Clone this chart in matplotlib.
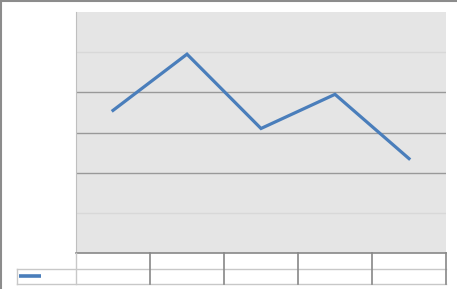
import matplotlib
matplotlib.use("Agg")
import matplotlib.pyplot as plt
from matplotlib.lines import Line2D
import numpy as np

categories = ["", "", "", "", ""]
values = [3.55, 4.95, 3.1, 3.95, 2.35]
y_max = 6

W, H = 457, 289
fig = plt.figure(figsize=(W / 100, H / 100), dpi=100)

def fx(px):
    return px / W

def fy(py):
    return 1 - py / H

# main plot area
L, R, T, B = 76, 446, 12, 253
ax = fig.add_axes([fx(L), fy(B), fx(R - L), (B - T) / H])
ax.set_facecolor("#e5e5e5")
x = np.arange(len(values))
ax.set_xlim(-0.5, len(values) - 0.5)
ax.set_ylim(0, y_max)
for yv in range(1, y_max):
    c = "#999999" if yv in (2, 3, 4) else "#d8d8d8"
    ax.axhline(yv, color=c, lw=1.0, zorder=1)
ax.plot(x, values, color="#4a7ebb", lw=2.3, solid_joinstyle="miter", zorder=3)
ax.set_xticks([])
ax.set_yticks([])
for s in ["top", "right"]:
    ax.spines[s].set_visible(False)
ax.spines["left"].set_color("#bfbfbf")
ax.spines["bottom"].set_color("#888888")
ax.spines["bottom"].set_linewidth(1.2)

# data table below
TL, TT, TM, TB = 17, 253, 268, 284
tax = fig.add_axes([fx(TL), fy(TB), fx(R - TL), (TB - TT) / H])
ppu = (R - L) / len(values)
tax.set_xlim(-0.5 - (L - TL) / ppu, len(values) - 0.5)
tax.set_ylim(0, 2)
tax.axis("off")
xl = -0.5 - (L - TL) / ppu
xr = len(values) - 0.5
light = "#c8c8c8"
dark = "#888888"
tax.plot([xl, xr], [1, 1], color=light, lw=1.0, clip_on=False)
tax.plot([xl, xr], [0, 0], color=light, lw=1.0, clip_on=False)
tax.plot([xl, xl], [0, 1], color=light, lw=1.0, clip_on=False)
tax.plot([-0.5, -0.5], [0, 2], color=light, lw=1.0, clip_on=False)
for i in range(len(values)):
    tax.plot([i + 0.5, i + 0.5], [0, 2], color=dark, lw=1.2, clip_on=False)
    tax.text(i, 1.5, categories[i], ha="center", va="center", fontsize=7)
# legend key
kx0 = xl + 2 / ppu
kx1 = xl + 24 / ppu
tax.plot([kx0, kx1], [0.5, 0.5], color="#4a7ebb", lw=2.6, solid_capstyle="butt", clip_on=False)

# figure border (left and top)
fig.add_artist(Line2D([0.5 / W, 0.5 / W], [0, 1], color="#8c8c8c", lw=1.5, transform=fig.transFigure))
fig.add_artist(Line2D([0, 1], [1 - 0.5 / H, 1 - 0.5 / H], color="#8c8c8c", lw=1.5, transform=fig.transFigure))

fig.savefig("out.png", dpi=100)
